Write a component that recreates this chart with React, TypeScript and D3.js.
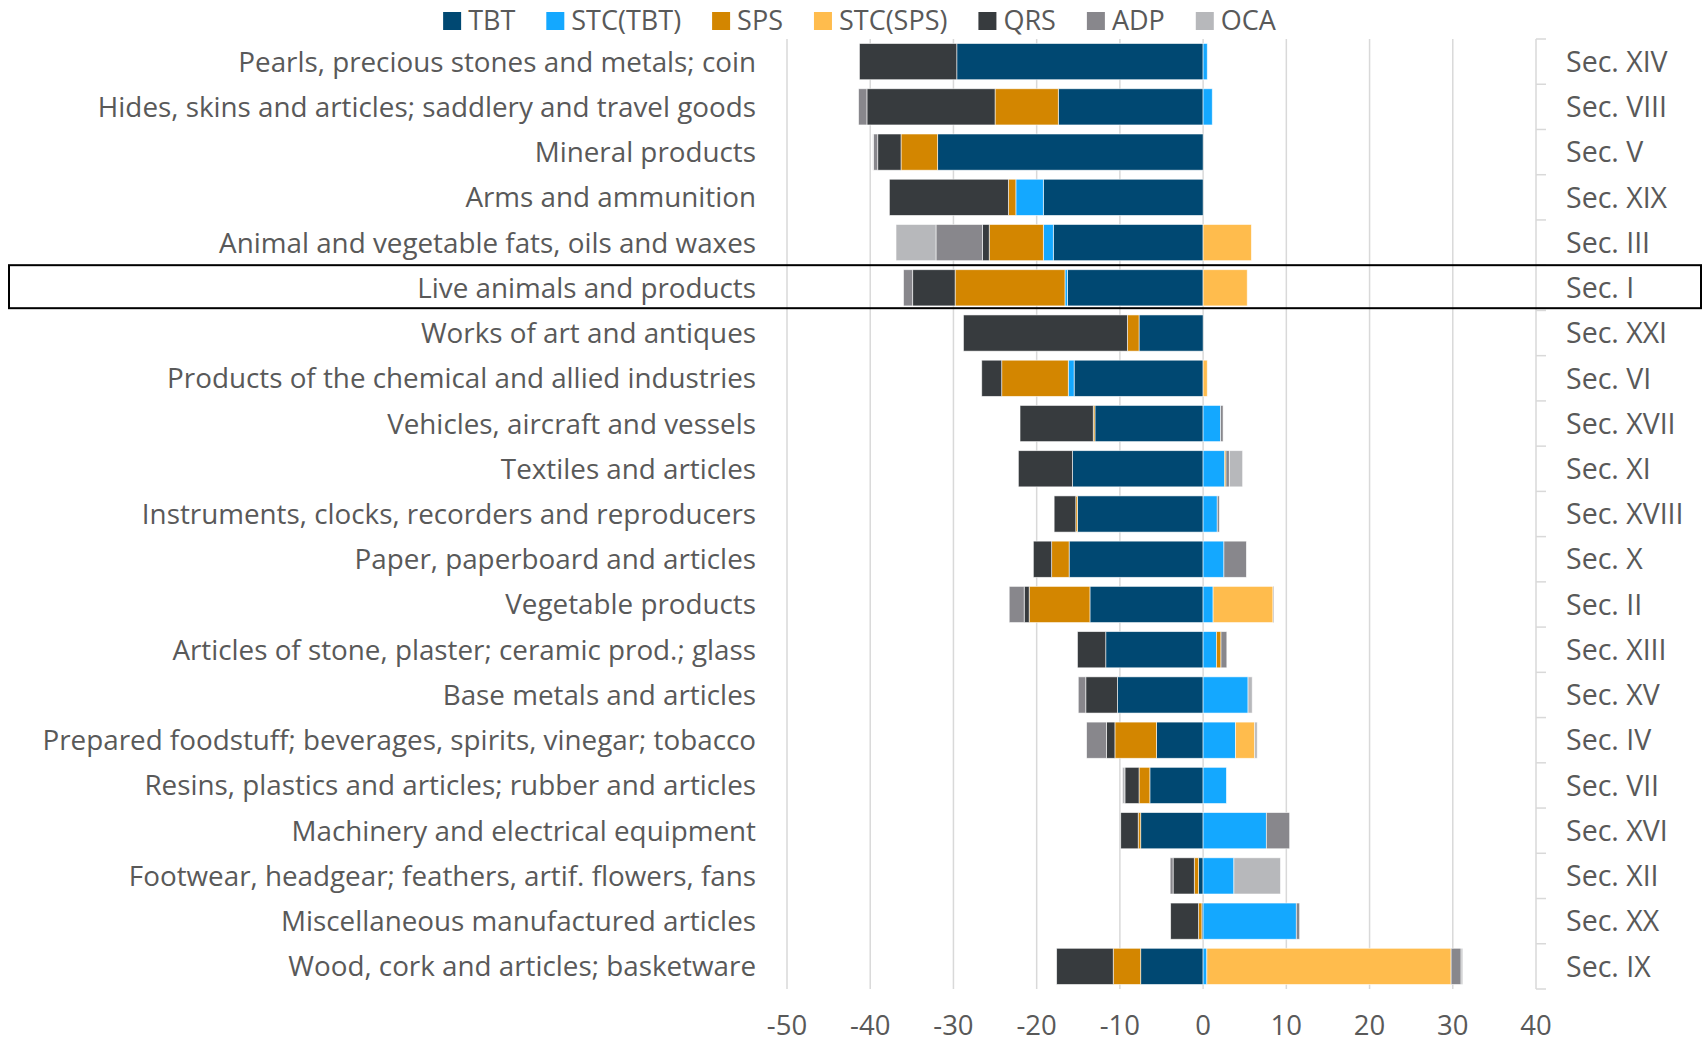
import React from "react";
import * as d3 from "d3";

const categories = [
  "Pearls, precious stones and metals; coin",
  "Hides, skins and articles; saddlery and travel goods",
  "Mineral products",
  "Arms and ammunition",
  "Animal and vegetable fats, oils and waxes",
  "Live animals and products",
  "Works of art and antiques",
  "Products of the chemical and allied industries",
  "Vehicles, aircraft and vessels",
  "Textiles and articles",
  "Instruments, clocks, recorders and reproducers",
  "Paper, paperboard and articles",
  "Vegetable products",
  "Articles of stone, plaster; ceramic prod.; glass",
  "Base metals and articles",
  "Prepared foodstuff; beverages, spirits, vinegar; tobacco",
  "Resins, plastics and articles; rubber and articles",
  "Machinery and electrical equipment",
  "Footwear, headgear; feathers, artif. flowers, fans",
  "Miscellaneous manufactured articles",
  "Wood, cork and articles; basketware",
];

const sections = [
  "Sec. XIV", "Sec. VIII", "Sec. V", "Sec. XIX", "Sec. III", "Sec. I", "Sec. XXI",
  "Sec. VI", "Sec. XVII", "Sec. XI", "Sec. XVIII", "Sec. X", "Sec. II", "Sec. XIII",
  "Sec. XV", "Sec. IV", "Sec. VII", "Sec. XVI", "Sec. XII", "Sec. XX", "Sec. IX",
];

const seriesNames = ["TBT", "STC(TBT)", "SPS", "STC(SPS)", "QRS", "ADP", "OCA"];
const seriesColors = ["#004872", "#14a8ff", "#d38600", "#ffbc4d", "#373b3e", "#88878c", "#b7b8bb"];

// negative side (left of zero)
const negTBT = [-29.6, -17.4, -31.9, -19.2, -18.0, -16.3, -7.7, -15.5, -13.0, -15.7, -15.1, -16.1, -13.6, -11.7, -10.3, -5.6, -6.4, -7.5, -0.56, -0.15, -7.5];
const negSTCTBT = [0, 0, 0, -3.3, -1.2, -0.3, 0, -0.7, 0, 0, 0, 0, 0, 0, 0, 0, 0, 0, 0, 0, 0];
const negSPS = [0, -7.6, -4.4, -0.9, -6.5, -13.2, -1.4, -8.0, -0.2, 0, -0.2, -2.1, -7.3, 0, 0, -5.0, -1.3, -0.3, -0.5, -0.4, -3.3];
const negSTCSPS = [0, 0, 0, 0, 0, 0, 0, 0, 0, 0, 0, 0, 0, 0, 0, 0, 0, 0, 0, 0, 0];
const negQRS = [-11.7, -15.4, -2.8, -14.3, -0.8, -5.1, -19.7, -2.4, -8.8, -6.5, -2.6, -2.2, -0.6, -3.4, -3.8, -1.0, -1.7, -2.1, -2.55, -3.35, -6.8];
const negADP = [0, -1.0, -0.5, 0, -5.6, -1.1, 0, 0, 0, 0, 0, 0, -1.8, 0, -0.9, -2.4, 0, 0, -0.35, 0, 0];
const negOCA = [0, 0, -0.1, 0, -4.8, 0, 0, 0, 0, 0, 0, 0, 0, 0, 0, 0, -0.3, 0, 0, 0, 0];

// positive side (right of zero)
const posTBT = [0, 0, 0, 0, 0, 0, 0, 0, 0, 0, 0, 0, 0, 0, 0, 0, 0, 0, 0, 0, 0];
const posSTCTBT = [0.5, 1.1, 0, 0, 0, 0, 0, 0, 2.1, 2.6, 1.7, 2.5, 1.2, 1.6, 5.4, 3.9, 2.8, 7.6, 3.7, 11.2, 0.45];
const posSPS = [0, 0, 0, 0, 0, 0, 0, 0, 0, 0.15, 0, 0, 0, 0.55, 0, 0, 0, 0, 0, 0, 0];
const posSTCSPS = [0, 0, 0, 0, 5.8, 5.3, 0, 0.5, 0, 0, 0, 0, 7.2, 0, 0, 2.3, 0, 0, 0, 0, 29.35];
const posQRS = [0, 0, 0, 0, 0, 0, 0, 0, 0, 0, 0, 0, 0, 0, 0, 0, 0, 0, 0, 0, 0];
const posADP = [0, 0, 0, 0, 0, 0, 0, 0, 0.3, 0.4, 0.25, 2.7, 0.1, 0.7, 0, 0, 0, 2.8, 0, 0.4, 1.2];
const posOCA = [0, 0, 0, 0, 0, 0, 0, 0, 0, 1.6, 0, 0, 0, 0, 0.5, 0.3, 0, 0, 5.6, 0, 0.2];

const xTicks = [-50, -40, -30, -20, -10, 0, 10, 20, 30, 40];
const highlighted = "Live animals and products";

const negSeries = [negTBT, negSTCTBT, negSPS, negSTCSPS, negQRS, negADP, negOCA];
const posSeries = [posTBT, posSTCTBT, posSPS, posSTCSPS, posQRS, posADP, posOCA];

const FONT = "'Open Sans', 'Noto Sans', sans-serif";
const TEXT = "#595959";
const GRID = "#d9d9d9";

function measure(text: string, size: number) {
  const c = document.createElement("canvas").getContext("2d")!;
  c.font = `${size}px ${FONT}`;
  return c.measureText(text).width;
}

export default function App() {
  const W = 1702, H = 1043;
  const x = d3.scaleLinear().domain([-50, 40]).range([787, 1536]);
  const y = d3.scaleBand<string>().domain(categories).range([39, 989]).paddingInner(0.2).paddingOuter(0.1);
  const band = y.step();

  const rows = categories.map((c, i) => {
    const row: any = { cat: c };
    seriesNames.forEach((s, k) => {
      row["n_" + s] = negSeries[k][i];
      row["p_" + s] = posSeries[k][i];
    });
    return row;
  });
  const negStack = d3.stack<any>().keys(seriesNames.map((s) => "n_" + s)).offset(d3.stackOffsetDiverging)(rows);
  const posStack = d3.stack<any>().keys(seriesNames.map((s) => "p_" + s)).offset(d3.stackOffsetDiverging)(rows);

  // legend layout
  const legSize = 27;
  const sq = 18;
  const items = seriesNames.map((s) => ({ s, w: sq + 7 + measure(s, legSize) }));
  const gap = 31;
  const total = d3.sum(items, (d) => d.w) + gap * (items.length - 1);
  let cx = 859.5 - total / 2;
  const legend = items.map((it, k) => {
    const o = { ...it, x: cx, color: seriesColors[k] };
    cx += it.w + gap;
    return o;
  });

  const bounds = d3.range(categories.length + 1).map((i) => 39 + i * band);

  const renderStack = (stack: any[], prefix: string) =>
    stack.map((layer, k) => (
      <g key={prefix + k} fill={seriesColors[k]}>
        {layer.map((d: any, i: number) => {
          const v0 = d[0], v1 = d[1];
          if (Math.abs(v1 - v0) < 1e-9) return null;
          const xa = x(Math.min(v0, v1)), xb = x(Math.max(v0, v1));
          return (
            <rect key={i} x={xa} y={y(categories[i])!} width={xb - xa} height={y.bandwidth()}
              stroke="#ffffff" strokeWidth={0.8} strokeOpacity={0.7} />
          );
        })}
      </g>
    ));

  const hy = y(highlighted)! - y.step() * y.paddingInner() / 2;

  return (
    <svg width={W} height={H} style={{ position: "absolute", left: 0, top: 0, display: "block", background: "#fff" }}
      fontFamily={FONT}>
      {/* grid */}
      {xTicks.map((t) => (
        <line key={t} x1={x(t)} x2={x(t)} y1={39} y2={989} stroke={GRID} strokeWidth={1.5} />
      ))}
      {/* right axis ticks */}
      {bounds.map((b, i) => (
        <line key={i} x1={x(40)} x2={x(40) + 10} y1={b} y2={b} stroke={GRID} strokeWidth={1.5} />
      ))}
      {renderStack(negStack, "n")}
      {renderStack(posStack, "p")}
      {/* category labels */}
      {categories.map((c) => (
        <text key={c} x={756} y={y(c)! + y.bandwidth() / 2} dy="0.36em" textAnchor="end" fontSize={27.8} fill={TEXT}>{c}</text>
      ))}
      {sections.map((s, i) => (
        <text key={s} x={1566} y={y(categories[i])! + y.bandwidth() / 2} dy="0.36em" fontSize={28.5} fill={TEXT}>{s}</text>
      ))}
      {/* x tick labels */}
      {xTicks.map((t) => (
        <text key={t} x={x(t)} y={1035} textAnchor="middle" fontSize={27.5} fill={TEXT}>{t}</text>
      ))}
      {/* legend */}
      {legend.map((l) => (
        <g key={l.s}>
          <rect x={l.x} y={12} width={sq} height={sq} fill={l.color} />
          <text x={l.x + sq + 7} y={30} fontSize={legSize} fill={TEXT}>{l.s}</text>
        </g>
      ))}
      {/* highlight box */}
      <rect x={9} y={hy} width={1692} height={43} fill="none" stroke="#000" strokeWidth={2} />
    </svg>
  );
}
